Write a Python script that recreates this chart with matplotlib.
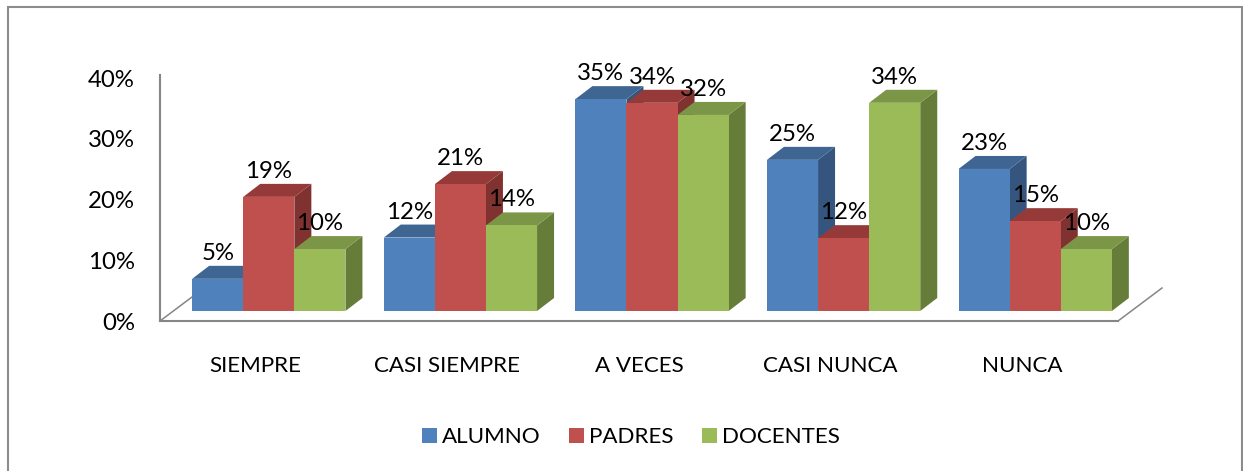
import matplotlib
matplotlib.use('Agg')
import matplotlib.pyplot as plt
from matplotlib.patches import Patch, Polygon, Rectangle

# valores (%)
categorias = ['SIEMPRE', 'CASI SIEMPRE', 'A VECES', 'CASI NUNCA', 'NUNCA']
alumno = [5.3, 12.1, 34.9, 24.9, 23.4]
padres = [18.8, 20.9, 34.3, 12.0, 14.8]
docentes = [10.2, 14.1, 32.3, 34.3, 10.2]
series_nombres = ['ALUMNO', 'PADRES', 'DOCENTES']
y_ticks = [0, 10, 20, 30, 40]

color_frente = ['#4F81BD', '#C0504D', '#9BBB59']
color_arriba = ['#3F6592', '#953A38', '#7C9647']
color_lado = ['#36557E', '#7F3230', '#667D3A']
color_eje = '#868686'

W, H = 1243, 471
plt.rcParams['font.family'] = ['Lato', 'DejaVu Sans']
FS = 17.3
FS_TXT = 16.1

fig = plt.figure(figsize=(W / 100, H / 100), dpi=100, facecolor='white')
fig.patches.append(Rectangle((8 / W, -0.02), 1233.5 / W, 1.02 - 7 / H, transform=fig.transFigure,
                             fill=False, edgecolor='#8C8C8C', linewidth=1.5))

ax = fig.add_axes([160 / W, (H - 321) / H, 958 / W, 246 / H])
ax.set_xlim(-0.5, 4.5)
ax.set_ylim(0, 246 / 6.07)
ax.patch.set_visible(False)

# pixeles por unidad, para pasar el efecto 3D a unidades de datos
px_x = 958 / 5
px_y = 6.07
base_dx, base_dy = 13 / px_x, 10 / px_y
prof_dx, prof_dy = 17 / px_x, 13 / px_y
ancho = 51.1 / px_x


def dibujar_barra(x0, valor, i):
    x1 = x0 + ancho
    y0 = base_dy
    y1 = base_dy + valor
    lado = [(x1, y0), (x1 + prof_dx, y0 + prof_dy), (x1 + prof_dx, y1 + prof_dy), (x1, y1)]
    arriba = [(x0, y1), (x1, y1), (x1 + prof_dx, y1 + prof_dy), (x0 + prof_dx, y1 + prof_dy)]
    frente = [(x0, y0), (x1, y0), (x1, y1), (x0, y1)]
    ax.add_patch(Polygon(lado, closed=True, facecolor=color_lado[i], edgecolor='none', clip_on=False, zorder=3))
    ax.add_patch(Polygon(arriba, closed=True, facecolor=color_arriba[i], edgecolor='none', clip_on=False, zorder=3))
    ax.add_patch(Polygon(frente, closed=True, facecolor=color_frente[i], edgecolor='none', clip_on=False, zorder=3))


# piso: lineas inclinadas izquierda y derecha
piso_dx, piso_dy = 44 / px_x, 33 / px_y
ax.plot([-0.5, -0.5 + piso_dx], [0, piso_dy], color=color_eje, lw=1.1, clip_on=False, zorder=1)
ax.plot([4.5, 4.5 + piso_dx], [0, piso_dy], color=color_eje, lw=1.1, clip_on=False, zorder=1)

series = [alumno, padres, docentes]
for c in range(len(categorias)):
    for i, valores in enumerate(series):
        x0 = c + base_dx + (i - 1.5) * ancho
        dibujar_barra(x0, valores[c], i)

# etiquetas arriba de todo
for c in range(len(categorias)):
    for i, valores in enumerate(series):
        x0 = c + base_dx + (i - 1.5) * ancho
        ax.annotate(f'{valores[c]:.0f}%', (x0 + ancho / 2, base_dy + valores[c]),
                    xytext=(0, 25.5 * 0.72), textcoords='offset points',
                    ha='center', va='center', fontsize=FS, color='black', zorder=5,
                    annotation_clip=False)

for s in ['top', 'right']:
    ax.spines[s].set_visible(False)
for s in ['left', 'bottom']:
    ax.spines[s].set_color(color_eje)
    ax.spines[s].set_linewidth(1.5)

ax.set_yticks(y_ticks)
ax.set_yticklabels([f'{v}%' for v in y_ticks], fontsize=FS)
ax.set_xticks(range(len(categorias)))
ax.set_xticklabels(categorias, fontsize=FS_TXT)
ax.tick_params(axis='y', length=0, pad=18)
ax.tick_params(axis='x', length=0, pad=25.5)

handles = [Patch(facecolor=color_frente[i], edgecolor='none') for i in range(3)]
fig.legend(handles, series_nombres, loc='center', bbox_to_anchor=(631 / W, (H - 437) / H),
           ncol=3, frameon=False, fontsize=FS_TXT, handlelength=0.67, handleheight=0.67,
           handletextpad=0.2, columnspacing=1.3, borderpad=0)

fig.savefig('out.png', dpi=100)
